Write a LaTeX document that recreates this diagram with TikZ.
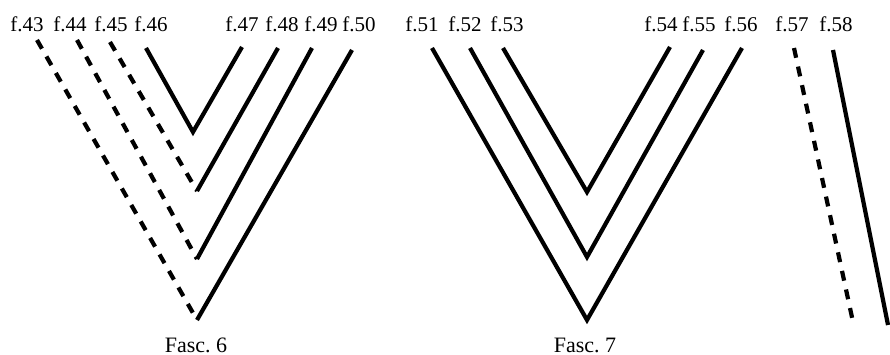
\documentclass[tikz,border=0pt]{standalone}
\usepackage{fontspec}
\setmainfont{Liberation Serif}

\begin{document}
\begin{tikzpicture}[x=1pt, y=-1pt,
        leaf/.style={font=\fontsize{21}{24}\selectfont, inner sep=0pt, anchor=base},
        fasc/.style={font=\fontsize{22}{26}\selectfont, inner sep=0pt, anchor=base},
        fold/.style={line width=4.2pt, line cap=butt, line join=miter},
        lost/.style={fold, dash pattern=on 10pt off 9pt}]
        \useasboundingbox (0,0) rectangle (890,355);

        \node[leaf] (f43) at (27,32) {f.43};
        \node[leaf] (f44) at (70,32) {f.44};
        \node[leaf] (f45) at (111,32) {f.45};
        \node[leaf] (f46) at (151,32) {f.46};
        \node[leaf] (f47) at (242,32) {f.47};
        \node[leaf] (f48) at (282,32) {f.48};
        \node[leaf] (f49) at (321,32) {f.49};
        \node[leaf] (f50) at (359,32) {f.50};
        \node[leaf] (f51) at (422,32) {f.51};
        \node[leaf] (f52) at (465,32) {f.52};
        \node[leaf] (f53) at (507,32) {f.53};
        \node[leaf] (f54) at (661,32) {f.54};
        \node[leaf] (f55) at (699,32) {f.55};
        \node[leaf] (f56) at (741,32) {f.56};
        \node[leaf] (f57) at (792,32) {f.57};
        \node[leaf] (f58) at (836,32) {f.58};

        \coordinate (t43) at (37,40);
        \coordinate (t44) at (77,40);
        \coordinate (t45) at (110,42);
        \coordinate (t46) at (146,48);
        \coordinate (t47) at (242,47);
        \coordinate (t48) at (278,48);
        \coordinate (t49) at (312,48);
        \coordinate (t50) at (352,50);
        \coordinate (a1) at (193,132);
        \coordinate (a2) at (197,191);
        \coordinate (a3) at (197,259);
        \coordinate (a4) at (197,320);

        \coordinate (t51) at (432,48);
        \coordinate (t52) at (470,48);
        \coordinate (t53) at (503,48);
        \coordinate (t54) at (670,47);
        \coordinate (t55) at (703,50);
        \coordinate (t56) at (742,48);
        \coordinate (b1) at (587,192);
        \coordinate (b2) at (587,257);
        \coordinate (b3) at (587,320);

        \coordinate (t57) at (794,48);
        \coordinate (e57) at (853,322);
        \coordinate (t58) at (833,50);
        \coordinate (e58) at (888,325);

        \draw[fold] (t46) -- (a1) -- (t47);
        \draw[lost] (t45) -- (a2);
        \draw[fold] (a2) -- (t48);
        \draw[lost] (t44) -- (a3);
        \draw[fold] (a3) -- (t49);
        \draw[lost] (t43) -- (a4);
        \draw[fold] (a4) -- (t50);

        \draw[fold] (t53) -- (b1) -- (t54);
        \draw[fold] (t52) -- (b2) -- (t55);
        \draw[fold] (t51) -- (b3) -- (t56);

        \draw[lost] (t57) -- (e57);
        \draw[fold] (t58) -- (e58);

        \node[fasc] (fasc6) at (196,352) {Fasc.\ 6};
        \node[fasc] (fasc7) at (585,352) {Fasc.\ 7};
    \end{tikzpicture}
\end{document}
